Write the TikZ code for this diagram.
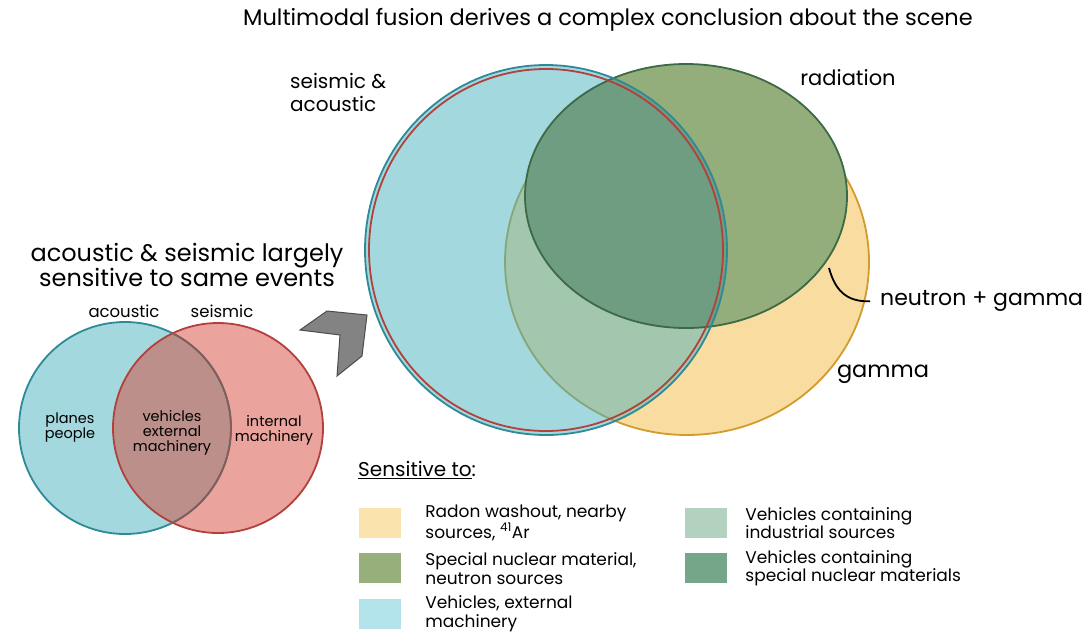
\documentclass[tikz,border=0pt]{standalone}
\usepackage{fontspec}
\setmainfont{Poppins}
\usepackage{tikz}
\usetikzlibrary{positioning}

\definecolor{lcyan}{HTML}{A3D8DE}
\definecolor{lred}{HTML}{EBA39D}
\definecolor{lboth}{HTML}{BC8F8A}
\definecolor{tealline}{HTML}{2E8A96}
\definecolor{redline}{HTML}{B2413B}
\definecolor{mixline}{HTML}{8A5A55}
\definecolor{byellow}{HTML}{F8DCA0}
\definecolor{orangeline}{HTML}{D39A2C}
\definecolor{bcyan}{HTML}{A3D8DF}
\definecolor{bgreen}{HTML}{93AE7A}
\definecolor{bpale}{HTML}{A2C6AE}
\definecolor{paleline}{HTML}{86A67A}
\definecolor{bdark}{HTML}{6E9D82}
\definecolor{greenline}{HTML}{3C6A46}
\definecolor{kyellow}{HTML}{FBE3AE}
\definecolor{kgreen}{HTML}{97AF7B}
\definecolor{kcyan}{HTML}{B2E2EA}
\definecolor{kpale}{HTML}{B2D1BF}
\definecolor{kdark}{HTML}{74A68A}
\definecolor{arrowgray}{HTML}{838383}

\begin{document}
\begin{tikzpicture}[x=1pt,y=-1pt]
			\tikzstyle{Label}	= [font=\fontsize{21}{24}\selectfont, inner sep=0pt]
			\tikzstyle{Big}		= [font=\fontsize{22.5}{25}\selectfont, inner sep=0pt]
			\tikzstyle{Small}	= [font=\fontsize{16.5}{18}\selectfont, inner sep=0pt, align=center]
			\tikzstyle{Tiny}	= [font=\fontsize{14.5}{15}\selectfont, inner sep=0pt, align=center]
			\tikzstyle{Key}		= [font=\fontsize{17}{18.5}\selectfont, inner sep=0pt, align=left, anchor=west]
			\tikzstyle{Swatch}	= [minimum width=42pt, minimum height=30pt, inner sep=0pt]
			\tikzstyle{Rim}		= [line width=1.8pt]
			
			\useasboundingbox (0,0) rectangle (1087,633);
			
			\node (title) at (608,20) [Big] {Multimodal fusion derives a complex conclusion about the scene};
			
			% two sensor venn
			\node (lhead) at (187,265) [Big, font=\fontsize{24}{25.5}\selectfont, align=center] {acoustic \& seismic largely\\sensitive to same events};
			\fill[lcyan] (125,428) circle [radius=106pt];
			\fill[lred] (218,428) circle [radius=105pt];
			\begin{scope}
				\clip (125,428) circle [radius=106pt];
				\fill[lboth] (218,428) circle [radius=105pt];
			\end{scope}
			\draw[Rim, tealline] (125,428) circle [radius=106pt];
			\draw[Rim, redline] (218,428) circle [radius=105pt];
			\begin{scope}
				\clip (218,428) circle [radius=105pt];
				\draw[Rim, mixline] (125,428) circle [radius=106pt];
			\end{scope}
			\node (acou) at (124,311) [Small] {acoustic};
			\node (seis) at (222,311) [Small] {seismic};
			\node (planes) at (70,428) [Tiny] {planes\\people};
			\node (vehic) at (172,433) [Tiny] {vehicles\\external\\machinery};
			\node (intern) at (274,430) [Tiny] {internal\\machinery};
			
			\filldraw[fill=arrowgray, draw=black!70, line width=1pt] (300,330) -- (327,311) -- (367,315) -- (362,356) -- (337,376) -- (340,335) -- cycle;
			
			% fused venn
			\fill[byellow] (687,262) ellipse [x radius=182pt, y radius=173pt];
			\draw[Rim, orangeline] (687,262) ellipse [x radius=182pt, y radius=173pt];
			\fill[bcyan] (546,250) ellipse [x radius=181pt, y radius=185pt];
			\fill[bgreen] (686,196) ellipse [x radius=161pt, y radius=132pt];
			\begin{scope}
				\clip (546,250) ellipse [x radius=181pt, y radius=185pt];
				\fill[bpale] (687,262) ellipse [x radius=182pt, y radius=173pt];
				\draw[Rim, paleline] (687,262) ellipse [x radius=182pt, y radius=173pt];
				\fill[bdark] (686,196) ellipse [x radius=161pt, y radius=132pt];
			\end{scope}
			\draw[Rim, greenline] (686,196) ellipse [x radius=161pt, y radius=132pt];
			\draw[Rim, tealline] (546,250) ellipse [x radius=181pt, y radius=185pt];
			\draw[Rim, redline] (546,250) ellipse [x radius=177pt, y radius=181pt];
			
			\node (sa) at (290,92) [Label, font=\fontsize{20}{23}\selectfont, align=left, anchor=west] {seismic \&\\acoustic};
			\node (rad) at (848,78) [Label] {radiation};
			\node (ng) at (880,301) [Big, font=\fontsize{22}{25}\selectfont, anchor=west] {neutron + gamma};
			\node (gam) at (883,374) [Big] {gamma};
			\coordinate (ngtip) at (829,268);
			\draw[line width=1.8pt, shorten >=10pt] (ngtip) .. controls (835,290) and (846,302) .. (ng.west);
			
			% legend
			\node (sens) at (358,470) [Label, font=\fontsize{20}{23}\selectfont, anchor=west] {\underline{Sensitive to}:};
			\node (kyel) at (380,523) [Swatch, fill=kyellow] {};
			\node (kgrn) [Swatch, fill=kgreen, below=15pt of kyel] {};
			\node (kcya) [Swatch, fill=kcyan, below=15pt of kgrn] {};
			\node (kpal) at (706,523) [Swatch, fill=kpale] {};
			\node (kdrk) [Swatch, fill=kdark, below=15pt of kpal] {};
			\node (tyel) [Key, right=24pt of kyel] {Radon washout, nearby\\sources, \textsuperscript{41}Ar};
			\node (tgrn) [Key, right=24pt of kgrn] {Special nuclear material,\\neutron sources};
			\node (tcya) [Key, right=24pt of kcya] {Vehicles, external\\machinery};
			\node (tpal) [Key, right=18pt of kpal] {Vehicles containing\\industrial sources};
			\node (tdrk) [Key, right=18pt of kdrk] {Vehicles containing\\special nuclear materials};
		\end{tikzpicture}
\end{document}
